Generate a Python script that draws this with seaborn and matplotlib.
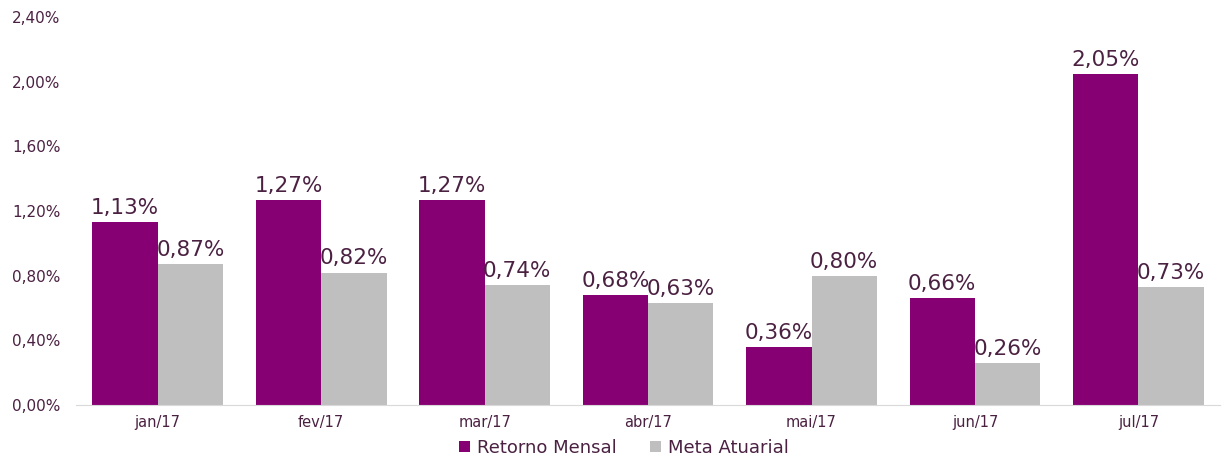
import pandas as pd
import numpy as np
import seaborn as sns
import matplotlib.pyplot as plt
from matplotlib.ticker import FuncFormatter, FixedLocator

months = ['jan/17', 'fev/17', 'mar/17', 'abr/17', 'mai/17', 'jun/17', 'jul/17']
retorno = [1.13, 1.27, 1.27, 0.68, 0.36, 0.66, 2.05]
meta = [0.87, 0.82, 0.74, 0.63, 0.80, 0.26, 0.73]
series = ['Retorno Mensal', 'Meta Atuarial']

df = pd.DataFrame({'Mes': months * 2,
                   'Valor': retorno + meta,
                   'Serie': [series[0]] * len(months) + [series[1]] * len(months)})

sns.set_style("white")
plt.rcParams['font.family'] = ['DejaVu Sans']
text_col = '#4B2142'
purple = '#870073'
grey = '#BFBFBF'

fig = plt.figure(figsize=(12.31, 4.63), dpi=100)
ax = fig.add_axes([0.0617, 0.125, 0.9295, 0.838])
sns.barplot(data=df, x='Mes', y='Valor', hue='Serie', palette=[purple, grey],
            width=0.8, gap=0, saturation=1, linewidth=0, ax=ax, legend=True)

ax.set_ylim(0, 2.4)
ax.set_xlim(-0.5, len(months) - 0.5)
ax.set_yticks(np.arange(0, 2.41, 0.4))
ax.yaxis.set_major_formatter(FuncFormatter(lambda v, p: f"{v:.2f}%".replace('.', ',')))
ax.tick_params(axis='y', length=0, labelsize=11, labelcolor=text_col, pad=11)
ax.tick_params(axis='x', which='major', length=0, labelsize=10.5, labelcolor=text_col, pad=7)
ax.xaxis.set_minor_locator(FixedLocator(np.arange(-0.5, len(months), 1.0)))
ax.tick_params(axis='x', which='minor', length=5, color='#D9D9D9', width=1)
ax.set_xlabel('')
ax.set_ylabel('')
for s in ['top', 'right', 'left']:
    ax.spines[s].set_visible(False)
ax.spines['bottom'].set_color('#D9D9D9')

for cont in ax.containers:
    labels = [f"{v:.2f}%".replace('.', ',') for v in cont.datavalues]
    ax.bar_label(cont, labels=labels, padding=3, fontsize=15.5, color=text_col)

ax.legend(loc='upper center', bbox_to_anchor=(0.479, -0.045), ncol=2, frameon=False,
          fontsize=13, handlelength=0.6, handleheight=0.6, handletextpad=0.4,
          columnspacing=1.8, labelcolor=text_col)

fig.savefig('out.png', dpi=100)
